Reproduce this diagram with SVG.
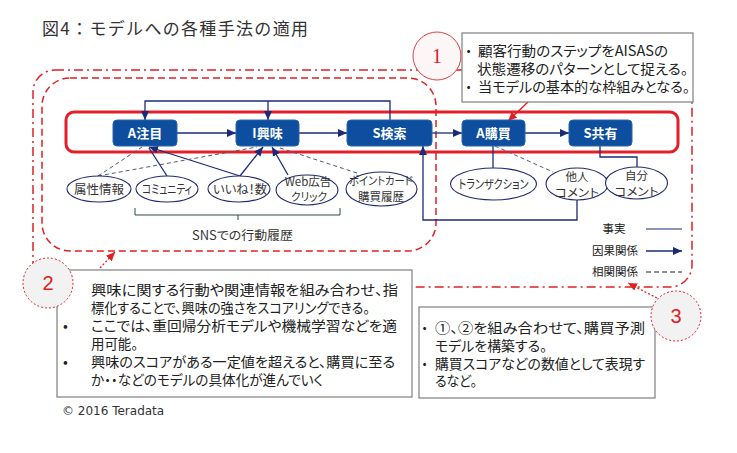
<svg xmlns="http://www.w3.org/2000/svg" width="737" height="453" viewBox="0 0 737 453">
<style>
.jp{font-family:"Noto Sans CJK JP","Noto Sans",sans-serif}
text{font-feature-settings:"palt"}
.title{font-size:17px;fill:#333;font-feature-settings:normal}
.node rect{fill:#0d4f9e;stroke:#2a64b0;stroke-width:1}
.node text{font-family:"Noto Sans CJK JP",sans-serif;font-size:13px;font-weight:bold;fill:#fff;text-anchor:middle}
.ell ellipse{fill:#fff;stroke:#1f2a6e;stroke-width:1.1}
.ell text{font-family:"Noto Sans CJK JP",sans-serif;font-size:12.5px;fill:#333;text-anchor:middle}
.ell text.s{font-size:11.5px}
.fact{stroke:#1c2a78;stroke-width:1.3;fill:none}
.cause{stroke:#1c2a78;stroke-width:1.3;fill:none;marker-end:url(#ah)}
.corr{stroke:#555a70;stroke-width:1;fill:none;stroke-dasharray:4 3}
.box rect{fill:#fff;stroke:#7f7f7f;stroke-width:1.2}
.box text{font-family:"Noto Sans CJK JP",sans-serif;font-size:14.2px;fill:#222}
.leg{font-family:"Noto Sans CJK JP",sans-serif;font-size:11.5px;fill:#222;text-anchor:middle}
.num{font-size:20px;fill:#e02020;text-anchor:middle}
</style>
<defs>
<marker id="ah" markerUnits="userSpaceOnUse" markerWidth="9" markerHeight="8" refX="9" refY="4" orient="auto">
<path d="M0,0 L9,4 L0,8 z" fill="#1c2a78"/>
</marker>
<marker id="rah" markerUnits="userSpaceOnUse" markerWidth="9" markerHeight="8" refX="9" refY="4" orient="auto">
<path d="M0,0 L9,4 L0,8 z" fill="#e02020"/>
</marker>
</defs>

<rect width="737" height="453" fill="#fff"/>

<text class="jp title" x="42" y="35" textLength="266">図4：モデルへの各種手法の適用</text>

<g id="borders" fill="none">
<rect x="33" y="70" width="659" height="217" rx="22" stroke="#e02020" stroke-width="1.5" stroke-dasharray="9 4 2 4"/>
<rect x="42" y="78" width="394" height="173" rx="28" stroke="#e02020" stroke-width="1.5" stroke-dasharray="7 4"/>
<rect x="66" y="112" width="612" height="40" rx="8" stroke="#e3202a" stroke-width="3"/>
</g>

<g id="connectors">
<path class="cause" d="M177,133 L236,133"/>
<path class="cause" d="M299,133 L347,133"/>
<path class="cause" d="M432,133 L462,133"/>
<path class="cause" d="M525,133 L569,133"/>
<path class="cause" d="M390,120 L390,101 L145,101 L145,120"/>
<path class="cause" d="M268,101 L268,120"/>
<path class="cause" d="M577,200 L577,220 L423,220 L423,146"/>
<path class="fact" d="M167,176 L149,148"/>
<path class="cause" d="M240,176 L149,147"/>
<path class="cause" d="M240,176 L263,147"/>
<path class="cause" d="M288,175 L272,147"/>
<path class="corr" d="M98,176 L142,147"/>
<path class="corr" d="M98,176 L257,147"/>
<path class="corr" d="M357,173 L277,147"/>
<path class="fact" d="M493,146 L493,168"/>
<path class="corr" d="M495,146 L553,172"/>
<path class="fact" d="M600,146 L600,157 L637,157 L637,167" stroke="#2f4a4a"/>
<path d="M528,102 L508,121" stroke="#e02020" stroke-width="1.3" fill="none" marker-end="url(#rah)"/>
<path d="M100,268 L115,252" stroke="#e02020" stroke-width="1.3" stroke-dasharray="2 2" fill="none" marker-end="url(#rah)"/>
<path d="M657,298 L628,283" stroke="#e02020" stroke-width="1.3" stroke-dasharray="2 2" fill="none" marker-end="url(#rah)"/>
</g>

<g id="n-attention" class="node"><rect x="113" y="120" width="64" height="26" rx="4"/><text x="145" y="138">A注目</text></g>
<g id="n-interest" class="node"><rect x="236" y="120" width="63" height="26" rx="4"/><text x="267.5" y="138">I興味</text></g>
<g id="n-search" class="node"><rect x="347" y="120" width="85" height="26" rx="4"/><text x="389.5" y="138">S検索</text></g>
<g id="n-action" class="node"><rect x="462" y="120" width="63" height="26" rx="4"/><text x="493.5" y="138">A購買</text></g>
<g id="n-share" class="node"><rect x="569" y="120" width="63" height="26" rx="4"/><text x="600.5" y="138">S共有</text></g>

<g id="e-attr" class="ell"><ellipse cx="99" cy="189" rx="32" ry="13"/><text x="99" y="194">属性情報</text></g>
<g id="e-community" class="ell"><ellipse cx="167" cy="189" rx="31" ry="13"/><text x="167" y="194" textLength="50" lengthAdjust="spacingAndGlyphs">コミュニティ</text></g>
<g id="e-like" class="ell"><ellipse cx="239" cy="189" rx="31" ry="13"/><text x="240" y="194" textLength="54" lengthAdjust="spacingAndGlyphs">いいね！数</text></g>
<g id="e-web" class="ell"><ellipse cx="307" cy="190" rx="31" ry="15"/><text class="s" x="308" y="186">Web広告</text><text class="s" x="309" y="201" textLength="36" lengthAdjust="spacingAndGlyphs">クリック</text></g>
<g id="e-point" class="ell"><ellipse cx="381.5" cy="189" rx="35.5" ry="17"/><text class="s" x="381" y="185" textLength="64" lengthAdjust="spacingAndGlyphs">ポイントカード</text><text class="s" x="381" y="201">購買履歴</text></g>
<g id="e-trans" class="ell"><ellipse cx="493.5" cy="184" rx="43" ry="16"/><text x="493.5" y="189" textLength="70" lengthAdjust="spacingAndGlyphs">トランザクション</text></g>
<g id="e-other" class="ell"><ellipse cx="577" cy="184" rx="31" ry="16"/><text class="s" x="577" y="181">他人</text><text class="s" x="577" y="197" textLength="44" lengthAdjust="spacingAndGlyphs">コメント</text></g>
<g id="e-self" class="ell"><ellipse cx="636.5" cy="183" rx="31" ry="16"/><text class="s" x="636.5" y="180">自分</text><text class="s" x="636.5" y="196" textLength="44" lengthAdjust="spacingAndGlyphs">コメント</text></g>

<g id="brace" fill="none" stroke="#2f4a4a" stroke-width="1">
<path d="M135,208 L135,215 L340,215 L340,208 M238,215 L238,220"/>
</g>
<text class="jp" x="192" y="240" font-size="12.5" fill="#333" textLength="101" lengthAdjust="spacingAndGlyphs">SNSでの行動履歴</text>

<g id="legend">
<text class="leg" x="614" y="233">事実</text>
<path d="M646,229 L682,229" stroke="#1c2a78" stroke-width="1.2"/>
<text class="leg" x="615" y="255">因果関係</text>
<path d="M646,251 L682,251" stroke="#1c2a78" stroke-width="1.3" marker-end="url(#ah)"/>
<text class="leg" x="615" y="276">相関関係</text>
<path d="M646,272 L682,272" stroke="#222" stroke-width="1.2" stroke-dasharray="5 3"/>
</g>

<g id="note1" class="box">
<rect x="462" y="33" width="231" height="69"/>
<text x="465" y="56">・</text><text x="478" y="56" textLength="190" lengthAdjust="spacingAndGlyphs">顧客行動のステップをAISASの</text>
<text x="477" y="74" textLength="211" lengthAdjust="spacingAndGlyphs">状態遷移のパターンとして捉える。</text>
<text x="465" y="92">・</text><text x="478" y="92" textLength="212" lengthAdjust="spacingAndGlyphs">当モデルの基本的な枠組みとなる。</text>
</g>
<g id="c1"><circle cx="437" cy="56" r="24" fill="#fdf6f6" stroke="#e04040" stroke-width="1"/><text class="num" x="437" y="63" font-family="Liberation Serif,serif">1</text></g>

<g id="note2" class="box">
<rect x="57" y="270" width="355" height="127"/>
<text x="91" y="295" textLength="307" lengthAdjust="spacingAndGlyphs">興味に関する行動や関連情報を組み合わせ、指</text>
<text x="91" y="313" textLength="279" lengthAdjust="spacingAndGlyphs">標化することで、興味の強さをスコアリングできる。</text>
<text x="63" y="331">•</text><text x="91" y="331" textLength="306" lengthAdjust="spacingAndGlyphs">ここでは、重回帰分析モデルや機械学習などを適</text>
<text x="91" y="349" textLength="47" lengthAdjust="spacingAndGlyphs">用可能。</text>
<text x="63" y="367">•</text><text x="91" y="367" textLength="304" lengthAdjust="spacingAndGlyphs">興味のスコアがある一定値を超えると、購買に至る</text>
<text x="91" y="385" textLength="232" lengthAdjust="spacingAndGlyphs">か・・などのモデルの具体化が進んでいく</text>
</g>
<g id="c2"><circle cx="48" cy="283" r="25" fill="#f2f2f2" stroke="#e02020" stroke-width="1" stroke-dasharray="2 2"/><text class="num" x="48" y="290" font-family="Liberation Sans,sans-serif">2</text></g>

<g id="note3" class="box">
<rect x="419" y="307" width="236" height="91"/>
<text x="421" y="333">・</text><text x="435" y="333" textLength="210" lengthAdjust="spacingAndGlyphs">①、②を組み合わせて、購買予測</text>
<text x="435" y="351" textLength="112" lengthAdjust="spacingAndGlyphs">モデルを構築する。</text>
<text x="421" y="369">・</text><text x="435" y="369" textLength="210" lengthAdjust="spacingAndGlyphs">購買スコアなどの数値として表現す</text>
<text x="435" y="386" textLength="42" lengthAdjust="spacingAndGlyphs">るなど。</text>
</g>
<g id="c3"><circle cx="676" cy="316" r="25" fill="#f2f2f2" stroke="#e02020" stroke-width="1" stroke-dasharray="2 2"/><text class="num" x="676" y="323" font-family="Liberation Sans,sans-serif">3</text></g>

<text x="62" y="415" font-family="DejaVu Sans,sans-serif" font-size="12" fill="#333">© 2016 Teradata</text>
</svg>
